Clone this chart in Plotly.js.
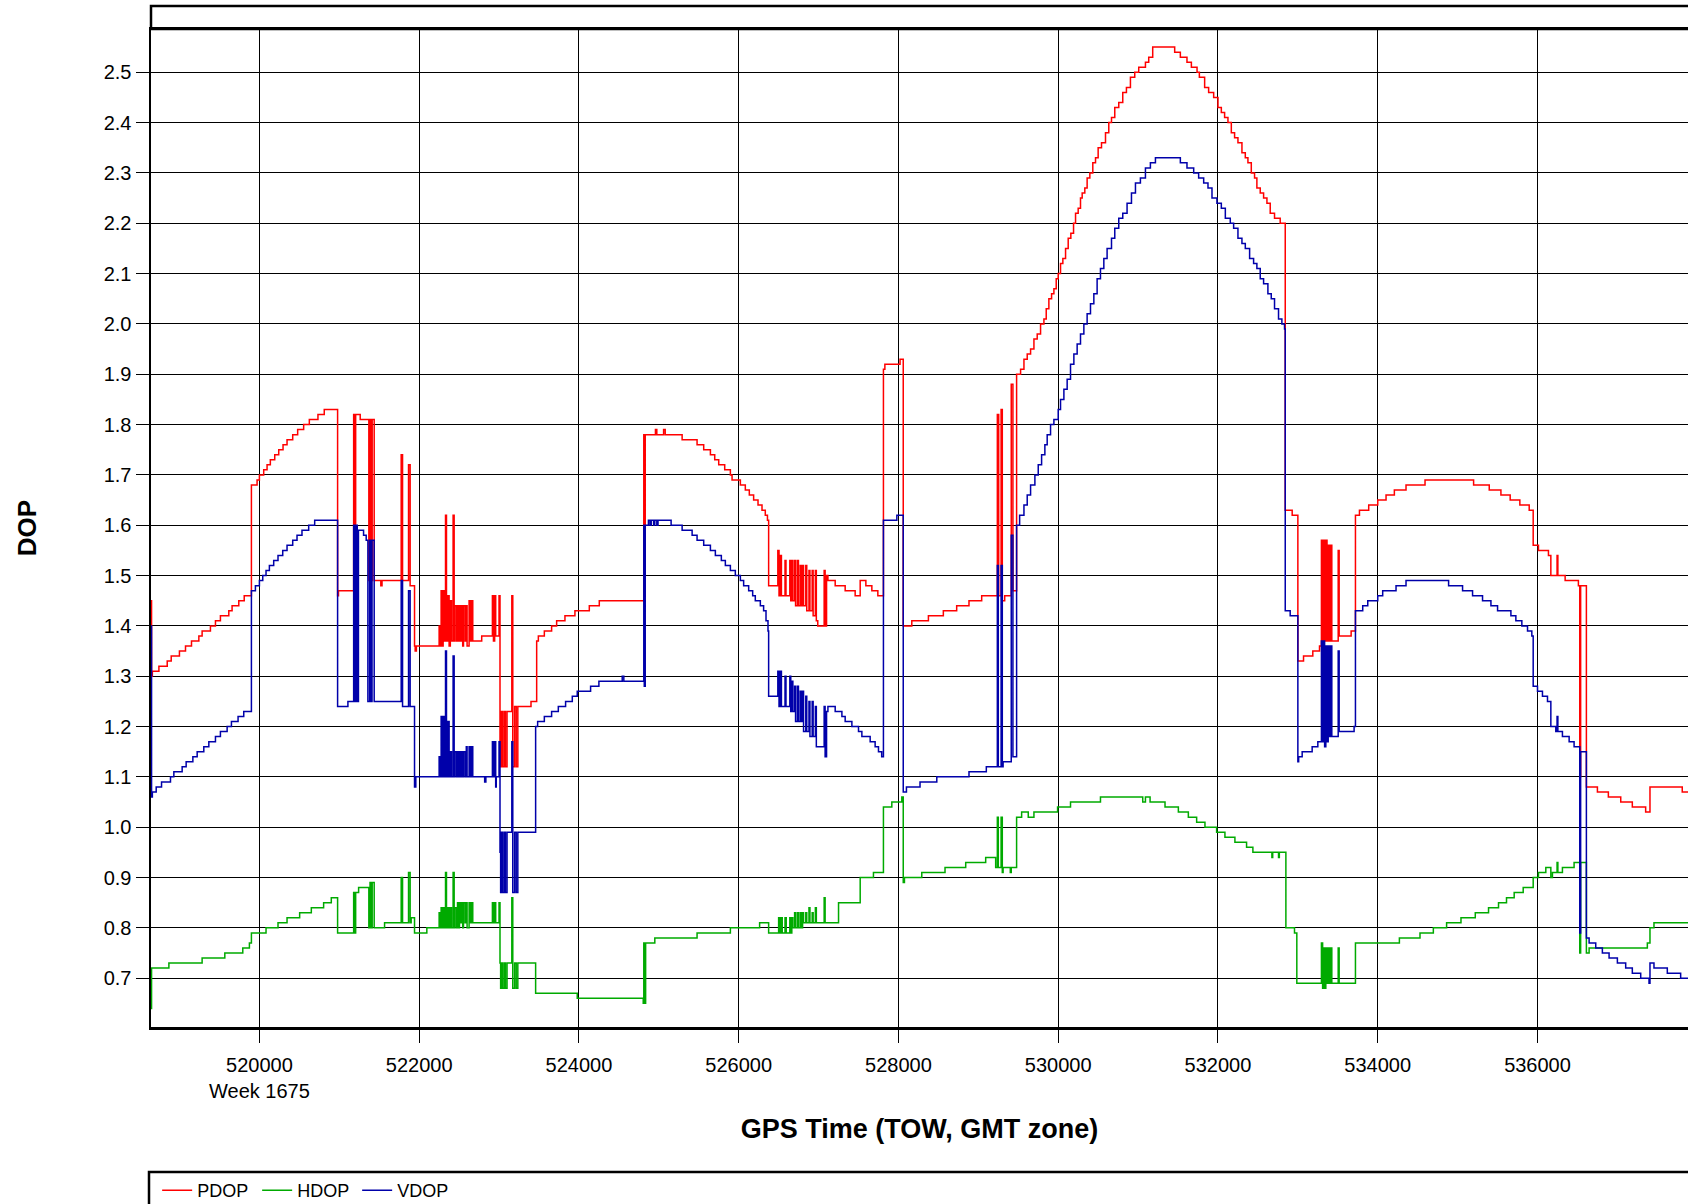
<!DOCTYPE html>
<html>
<head>
<meta charset="utf-8">
<script src="https://cdn.plot.ly/plotly-3.0.1.min.js"></script>
<style>html,body{margin:0;padding:0;background:#fff;}#chart{width:1688px;height:1204px;}</style>
</head>
<body>
<div id="chart"></div>
<script>
// ---- data (GPS time of week, DOP value) ----
const seriesNames = ['PDOP', 'HDOP', 'VDOP'];
const xTickVals = [520000, 522000, 524000, 526000, 528000, 530000, 532000, 534000, 536000];
const xTickText = ['520000<br>Week 1675', '522000', '524000', '526000', '528000', '530000', '532000', '534000', '536000'];
const yTickVals = [0.7, 0.8, 0.9, 1.0, 1.1, 1.2, 1.3, 1.4, 1.5, 1.6, 1.7, 1.8, 1.9, 2.0, 2.1, 2.2, 2.3, 2.4, 2.5];

const pdop = [
[518640,1.45],[518650,1.30],[518660,1.31],[518742,1.32],[518846,1.33],[518896,1.34],[518999,1.35],[519075,1.36],[519150,1.37],[519242,1.38],[519283,1.39],[519387,1.40],[519450,1.41],[519512,1.42],[519617,1.43],[519658,1.44],[519742,1.45],[519810,1.46],
[519900,1.68],[519971,1.69],[520000,1.70],[520054,1.71],[520096,1.72],[520137,1.73],[520192,1.74],[520242,1.75],[520296,1.76],[520346,1.77],[520417,1.78],[520479,1.79],[520554,1.80],[520625,1.81],[520733,1.82],[520812,1.83],
[520979,1.46],[520990,1.47],
[521180,1.82],[521192,1.47],[521205,1.82],[521262,1.81],[521370,1.49],[521385,1.81],[521400,1.49],[521412,1.81],[521437,1.49],[521520,1.48],[521535,1.49],
[521775,1.74],[521792,1.49],[521867,1.72],[521887,1.48],[521942,1.36],[521950,1.35],[521965,1.36],
[522250,1.40],[522262,1.36],[522275,1.47],[522290,1.36],[522300,1.47],[522312,1.37],[522330,1.62],[522342,1.37],[522360,1.46],[522375,1.36],[522390,1.45],[522405,1.37],[522425,1.62],[522438,1.37],[522450,1.44],[522470,1.37],[522480,1.44],[522495,1.37],[522505,1.44],[522520,1.37],[522530,1.44],[522545,1.36],[522555,1.44],[522575,1.37],[522590,1.44],[522600,1.36],[522625,1.45],[522640,1.37],[522655,1.45],[522671,1.37],
[522783,1.38],[522917,1.46],[522930,1.37],[522945,1.46],[522958,1.38],[523000,1.46],[523012,1.12],[523030,1.23],[523045,1.12],[523065,1.23],[523080,1.12],[523100,1.23],[523160,1.46],[523172,1.12],[523195,1.24],[523215,1.12],[523235,1.24],[523400,1.25],
[523471,1.37],[523492,1.38],[523567,1.39],[523658,1.40],[523721,1.41],[523825,1.42],[523950,1.43],[524130,1.44],[524255,1.45],
[524812,1.78],[524820,1.46],[524830,1.78],[524958,1.79],[524975,1.78],[525060,1.79],[525080,1.78],[525292,1.77],[525479,1.76],[525562,1.75],[525646,1.74],[525700,1.73],[525750,1.72],[525825,1.71],[525896,1.70],[525917,1.69],[526021,1.68],[526083,1.67],[526133,1.66],[526187,1.65],[526242,1.64],[526292,1.63],[526333,1.62],[526360,1.61],
[526375,1.48],[526490,1.55],[526505,1.46],[526520,1.54],[526535,1.46],[526580,1.53],[526592,1.46],[526640,1.53],[526652,1.45],[526665,1.53],[526678,1.45],[526700,1.53],[526712,1.44],[526735,1.53],[526748,1.44],[526770,1.52],[526782,1.44],[526800,1.52],[526812,1.44],[526840,1.52],[526852,1.43],[526880,1.51],[526892,1.43],[526920,1.51],[526932,1.42],[526960,1.51],[526972,1.41],[526990,1.40],[527070,1.51],[527082,1.40],[527100,1.50],[527117,1.49],
[527208,1.48],[527333,1.47],[527458,1.46],[527521,1.49],[527592,1.48],[527667,1.47],[527742,1.46],
[527812,1.91],[527830,1.92],[528020,1.93],[528060,1.40],[528167,1.41],[528375,1.42],[528562,1.43],[528729,1.44],[528883,1.45],[529042,1.46],
[529238,1.82],[529255,1.46],[529285,1.83],[529300,1.45],[529330,1.46],[529412,1.88],[529433,1.47],[529479,1.90],
[529529,1.91],[529571,1.93],[529612,1.94],[529654,1.95],[529696,1.97],[529737,1.98],[529779,2.00],[529821,2.01],[529850,2.03],[529883,2.05],[529917,2.06],[529946,2.07],[529975,2.09],[530000,2.10],[530029,2.12],[530058,2.13],[530092,2.15],[530125,2.17],[530158,2.18],[530192,2.20],[530217,2.22],[530250,2.23],[530279,2.25],[530300,2.26],[530333,2.27],[530362,2.29],[530396,2.30],[530433,2.32],[530467,2.33],[530500,2.35],[530542,2.36],[530592,2.38],[530633,2.40],[530667,2.41],[530708,2.43],[530758,2.44],[530808,2.46],[530854,2.47],[530904,2.49],[530958,2.50],[531008,2.51],[531092,2.52],[531133,2.53],[531183,2.55],
[531458,2.54],[531529,2.53],[531612,2.52],[531667,2.51],[531738,2.50],[531767,2.49],[531833,2.47],[531883,2.46],[531946,2.45],[532000,2.43],[532042,2.42],[532083,2.41],[532125,2.40],[532167,2.38],[532208,2.37],[532250,2.36],[532300,2.34],[532342,2.33],[532375,2.32],[532417,2.30],[532458,2.29],[532487,2.27],[532529,2.26],[532571,2.25],[532613,2.24],[532654,2.22],[532708,2.21],[532779,2.20],
[532842,1.63],[532929,1.62],[533000,1.33],[533071,1.34],[533187,1.35],[533271,1.36],
[533295,1.57],[533310,1.37],[533320,1.57],[533335,1.37],[533350,1.57],[533365,1.37],[533380,1.56],[533395,1.37],[533410,1.56],[533425,1.37],[533505,1.55],[533517,1.38],[533667,1.39],
[533721,1.62],[533771,1.63],[533887,1.64],[534000,1.65],[534104,1.66],[534208,1.67],[534354,1.68],[534592,1.69],[535200,1.68],[535396,1.67],[535542,1.66],[535658,1.65],[535779,1.64],[535896,1.63],
[535946,1.56],[536012,1.55],[536137,1.54],[536167,1.50],[536245,1.54],[536255,1.50],[536346,1.49],[536512,1.48],[536529,1.10],[536540,1.48],
[536612,1.08],[536750,1.07],[536887,1.06],[537042,1.05],[537187,1.04],[537354,1.03],[537408,1.08],[537812,1.07],[537884,1.07]
];

const hdop = [
[518640,0.64],[518650,0.72],[518867,0.73],[519283,0.74],[519567,0.75],[519792,0.76],[519875,0.77],[519900,0.79],[520083,0.80],[520233,0.81],[520346,0.82],[520504,0.83],[520650,0.84],[520804,0.85],[520900,0.86],
[520979,0.79],[521180,0.87],[521192,0.79],[521205,0.87],[521242,0.88],[521370,0.80],[521385,0.89],[521400,0.80],[521412,0.89],[521437,0.80],[521567,0.81],[521775,0.90],[521792,0.81],[521867,0.91],[521887,0.81],[521900,0.82],[521942,0.79],[522096,0.80],
[522250,0.83],[522262,0.80],[522275,0.84],[522290,0.80],[522300,0.84],[522312,0.80],[522330,0.91],[522342,0.80],[522360,0.84],[522375,0.80],[522390,0.84],[522405,0.80],[522425,0.91],[522438,0.80],[522450,0.84],[522470,0.80],[522480,0.85],[522495,0.80],[522505,0.85],[522520,0.81],[522530,0.85],[522545,0.80],[522555,0.85],[522575,0.81],[522590,0.85],[522600,0.80],[522625,0.85],[522640,0.81],[522655,0.85],[522671,0.81],
[522917,0.85],[522930,0.81],[522945,0.85],[522958,0.81],[523000,0.85],[523012,0.73],[523020,0.68],[523030,0.73],[523045,0.68],[523065,0.73],[523080,0.68],[523100,0.73],[523160,0.86],[523172,0.68],[523195,0.73],[523215,0.68],[523235,0.73],
[523458,0.67],[523979,0.66],
[524805,0.65],[524812,0.77],[524822,0.65],[524835,0.77],[524950,0.78],[525479,0.79],[525896,0.80],[526262,0.81],[526375,0.79],
[526500,0.82],[526512,0.79],[526530,0.82],[526545,0.79],[526580,0.82],[526595,0.79],[526640,0.82],[526652,0.79],[526665,0.82],[526678,0.80],[526700,0.83],[526712,0.80],[526735,0.83],[526748,0.80],[526770,0.83],[526782,0.80],[526800,0.83],[526812,0.81],[526840,0.83],[526852,0.81],[526880,0.84],[526892,0.81],[526920,0.83],[526932,0.81],[526960,0.84],[526972,0.81],[527070,0.86],[527082,0.81],
[527250,0.85],[527521,0.90],[527687,0.91],[527812,1.04],[527917,1.05],[528042,1.06],[528060,0.89],[528075,0.90],[528292,0.91],[528583,0.92],[528842,0.93],[529092,0.94],[529217,0.92],
[529238,1.02],[529250,0.92],[529285,1.02],[529300,0.91],[529310,0.92],[529400,0.91],[529412,0.92],[529479,1.02],[529542,1.03],[529625,1.02],[529696,1.03],[529992,1.04],[530154,1.05],[530529,1.06],[531058,1.05],[531092,1.06],[531150,1.05],[531337,1.04],[531504,1.03],[531629,1.02],[531733,1.01],[531837,1.00],[531983,0.99],[532087,0.98],[532212,0.97],[532358,0.96],[532437,0.95],[532675,0.94],[532685,0.95],[532758,0.94],[532768,0.95],
[532850,0.80],[532958,0.79],[532987,0.69],
[533295,0.77],[533310,0.68],[533320,0.76],[533335,0.68],[533350,0.76],[533365,0.69],[533380,0.76],[533395,0.69],[533410,0.76],[533425,0.69],[533505,0.76],[533517,0.69],
[533721,0.77],[534271,0.78],[534529,0.79],[534696,0.80],[534862,0.81],[535042,0.82],[535221,0.83],[535387,0.84],[535512,0.85],[535612,0.86],[535708,0.87],[535821,0.88],[535946,0.90],[536012,0.91],[536104,0.92],[536167,0.90],[536187,0.91],[536245,0.93],[536255,0.91],[536312,0.92],[536458,0.93],
[536529,0.75],[536540,0.93],[536612,0.75],[536646,0.76],[537375,0.77],[537408,0.80],[537458,0.81],[537884,0.81]
];

const vdop = [
[518640,1.40],[518650,1.06],[518660,1.07],[518708,1.08],[518775,1.09],[518887,1.10],[518929,1.11],[519033,1.12],[519083,1.13],[519167,1.14],[519221,1.15],[519304,1.16],[519367,1.17],[519450,1.18],[519512,1.19],[519596,1.20],[519650,1.21],[519733,1.22],[519804,1.23],
[519900,1.47],[519950,1.48],[520000,1.49],[520042,1.50],[520083,1.51],[520125,1.52],[520179,1.53],[520233,1.54],[520292,1.55],[520346,1.56],[520417,1.57],[520471,1.58],[520533,1.59],[520617,1.60],[520692,1.61],
[520979,1.24],[521108,1.25],[521180,1.60],[521195,1.25],[521210,1.60],[521225,1.25],[521240,1.59],[521304,1.58],[521337,1.57],[521358,1.25],[521380,1.57],[521395,1.25],[521410,1.57],[521437,1.25],
[521775,1.49],[521792,1.24],[521867,1.47],[521887,1.24],[521942,1.08],[521958,1.10],
[522250,1.14],[522262,1.10],[522275,1.22],[522290,1.10],[522300,1.22],[522312,1.10],[522330,1.35],[522342,1.10],[522360,1.21],[522375,1.10],[522390,1.15],[522405,1.10],[522425,1.34],[522438,1.10],[522450,1.15],[522470,1.10],[522480,1.15],[522495,1.10],[522505,1.15],[522520,1.10],[522530,1.15],[522545,1.10],[522555,1.15],[522575,1.10],[522590,1.16],[522600,1.10],[522625,1.16],[522640,1.10],[522655,1.16],[522671,1.10],
[522820,1.09],[522835,1.10],[522917,1.17],[522930,1.10],[522945,1.17],[522958,1.08],[522965,1.10],[523000,1.17],[523012,0.95],[523020,0.87],[523030,0.99],[523045,0.87],[523065,0.99],[523080,0.87],[523100,0.99],[523160,1.17],[523172,0.87],[523195,0.99],[523215,0.87],[523235,0.99],
[523458,1.20],[523483,1.21],[523567,1.22],[523658,1.23],[523742,1.24],[523833,1.25],[523917,1.26],[523979,1.27],[524146,1.28],[524250,1.29],[524542,1.30],[524562,1.29],
[524812,1.60],[524818,1.28],[524830,1.60],[524870,1.61],[524890,1.60],[524905,1.61],[524935,1.60],[524950,1.61],[524975,1.60],[524990,1.61],[525154,1.60],
[525292,1.59],[525417,1.58],[525479,1.57],[525562,1.56],[525646,1.55],[525708,1.54],[525783,1.53],[525833,1.52],[525896,1.51],[525958,1.50],[526021,1.49],[526062,1.48],[526125,1.47],[526175,1.46],[526208,1.45],[526271,1.44],[526312,1.43],[526342,1.41],[526367,1.39],
[526375,1.26],[526490,1.31],[526505,1.24],[526520,1.31],[526535,1.24],[526580,1.30],[526592,1.24],[526640,1.30],[526652,1.23],[526665,1.29],[526678,1.23],[526700,1.28],[526712,1.21],[526735,1.28],[526748,1.21],[526770,1.27],[526782,1.21],[526800,1.27],[526812,1.19],[526840,1.26],[526852,1.19],[526880,1.25],[526892,1.18],[526920,1.25],[526932,1.18],[526960,1.24],[526972,1.16],[527070,1.24],[527082,1.14],[527100,1.23],[527117,1.24],
[527208,1.23],[527292,1.22],[527333,1.21],[527417,1.20],[527500,1.19],[527542,1.18],[527646,1.17],[527708,1.16],[527750,1.15],[527790,1.14],
[527812,1.61],[527980,1.62],[528060,1.07],[528100,1.08],[528270,1.09],[528480,1.10],[528883,1.11],[529100,1.12],
[529238,1.52],[529250,1.12],[529285,1.52],[529300,1.12],[529310,1.13],[529412,1.58],[529433,1.14],[529479,1.60],
[529517,1.62],[529571,1.64],[529612,1.66],[529654,1.68],[529708,1.70],[529750,1.72],[529792,1.74],[529833,1.76],[529862,1.78],[529904,1.80],[529946,1.81],[530000,1.83],[530029,1.85],[530071,1.87],[530112,1.89],[530154,1.92],[530196,1.94],[530237,1.96],[530279,1.98],[530321,2.00],[530362,2.02],[530404,2.04],[530446,2.06],[530487,2.09],[530529,2.11],[530571,2.13],[530612,2.15],[530667,2.17],[530708,2.19],[530758,2.21],[530808,2.22],[530862,2.24],[530917,2.26],[530967,2.28],[531029,2.29],[531092,2.31],[531154,2.32],[531217,2.33],
[531529,2.32],[531612,2.31],[531696,2.30],[531758,2.29],[531821,2.28],[531875,2.27],[531925,2.25],[531987,2.24],[532042,2.23],[532092,2.21],[532154,2.20],[532196,2.19],[532250,2.17],[532300,2.16],[532342,2.15],[532396,2.13],[532446,2.12],[532487,2.11],[532529,2.09],[532571,2.08],[532625,2.06],[532667,2.05],[532708,2.03],[532758,2.01],[532800,2.00],[532833,1.99],
[532842,1.43],[532904,1.42],[533000,1.13],[533010,1.14],[533054,1.15],[533179,1.16],[533250,1.17],
[533295,1.37],[533310,1.17],[533320,1.37],[533335,1.16],[533350,1.36],[533365,1.17],[533380,1.36],[533395,1.18],[533410,1.36],[533425,1.18],[533505,1.35],[533517,1.19],[533704,1.20],
[533721,1.43],[533812,1.44],[533875,1.45],[534000,1.46],[534062,1.47],[534229,1.48],[534354,1.49],[534887,1.48],[535062,1.47],[535187,1.46],[535312,1.45],[535417,1.44],[535500,1.43],[535667,1.42],[535729,1.41],[535804,1.40],[535875,1.39],[535929,1.38],
[535946,1.28],[536000,1.27],[536062,1.26],[536125,1.25],[536167,1.20],[536229,1.19],[536245,1.22],[536255,1.19],[536312,1.18],[536396,1.17],[536458,1.16],[536529,0.79],[536540,1.15],
[536612,0.78],[536646,0.77],[536729,0.76],[536812,0.75],[536896,0.74],[537000,0.73],[537104,0.72],[537187,0.71],[537292,0.70],[537396,0.69],[537408,0.73],[537458,0.72],[537625,0.71],[537792,0.70],[537884,0.70]
];

const seriesColors = ['#ff0000', '#00aa00', '#0000aa'];

// ---- chart ----
const FONT = 'Liberation Sans, Arial, sans-serif';
const allData = [pdop, hdop, vdop];
const traces = allData.map((pts, i) => ({
  type: 'scatter',
  mode: 'lines',
  name: seriesNames[i],
  x: pts.map(p => p[0]),
  y: pts.map(p => p[1]),
  line: {color: seriesColors[i], width: 1.5, shape: 'hv'},
  hoverinfo: 'skip'
}));

const layout = {
  width: 1688,
  height: 1204,
  margin: {l: 151, r: 0, t: 29, b: 177, pad: 0, autoexpand: false},
  paper_bgcolor: '#ffffff',
  plot_bgcolor: '#ffffff',
  font: {family: FONT, color: '#000'},
  showlegend: true,
  legend: {
    orientation: 'h',
    x: 0.004, xanchor: 'left',
    y: -0.1453, yanchor: 'top',
    font: {family: FONT, size: 18, color: '#000'},
    bgcolor: 'rgba(0,0,0,0)',
    borderwidth: 0,
    entrywidth: 55,
    entrywidthmode: 'pixels'
  },
  xaxis: {
    automargin: false,
    range: [518643, 537884],
    tickmode: 'array',
    tickvals: xTickVals,
    ticktext: xTickText,
    ticks: 'outside', ticklen: 13, tickwidth: 1, tickcolor: '#000',
    ticklabelstandoff: 5,
    tickfont: {family: FONT, size: 20, color: '#000'},
    showgrid: true, gridcolor: '#000', gridwidth: 1,
    showline: true, linecolor: '#000', linewidth: 2.5, mirror: true,
    zeroline: false,
    title: {text: '<b>GPS Time (TOW, GMT zone)</b>', font: {family: FONT, size: 27, color: '#000'}, standoff: 19}
  },
  yaxis: {
    automargin: false,
    range: [0.603, 2.586],
    tickmode: 'array',
    tickvals: yTickVals,
    tickformat: '.1f',
    ticks: 'outside', ticklen: 13, tickwidth: 1, tickcolor: '#000',
    ticklabelstandoff: 0,
    tickfont: {family: FONT, size: 20, color: '#000'},
    showgrid: true, gridcolor: '#000', gridwidth: 1,
    showline: true, linecolor: '#000', linewidth: 2.5, mirror: false,
    zeroline: false,
    title: {text: '<b>DOP</b>', font: {family: FONT, size: 26, color: '#000'}, standoff: 60}
  },
  shapes: [
    {type: 'rect', xref: 'paper', yref: 'paper', x0: 0, x1: 1.05, y0: 1, y1: 1.023,
     line: {color: '#000', width: 2.5}, fillcolor: 'rgba(0,0,0,0)', layer: 'above'},
    {type: 'rect', xref: 'paper', yref: 'paper', x0: -0.0013, x1: 1.05, y0: -0.3, y1: -0.1453,
     line: {color: '#000', width: 2.5}, fillcolor: 'rgba(0,0,0,0)', layer: 'above'}
  ]
};

Plotly.newPlot('chart', traces, layout, {staticPlot: true, displayModeBar: false});
</script>
</body>
</html>
